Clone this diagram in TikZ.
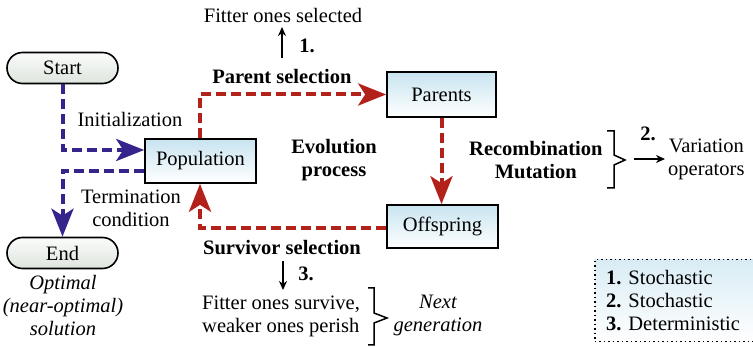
\documentclass[tikz,border=0pt]{standalone}
\usepackage{fontspec}
\setmainfont{Liberation Serif}
\usetikzlibrary{arrows.meta}
\definecolor{evblue}{RGB}{55,35,140}
\definecolor{evred}{RGB}{178,34,26}
\definecolor{boxtop}{RGB}{200,228,240}
\definecolor{pilltop}{RGB}{250,252,250}
\definecolor{pillbot}{RGB}{222,228,222}
\tikzset{
  every node/.style={font=\fontsize{20.5}{23}\selectfont, inner sep=0pt},
  stagebox/.style={draw=black, line width=1.6pt, top color=boxtop, bottom color=white, minimum width=111pt, minimum height=44pt},
  pill/.style={draw=black, line width=1.6pt, rounded corners=15.5pt, top color=pilltop, bottom color=pillbot, minimum width=111pt, minimum height=31pt},
  bluelink/.style={draw=evblue, line width=4pt, dash pattern=on 10pt off 5pt, -{Stealth[length=28pt,width=22pt,inset=7pt]}},
  redlink/.style={draw=evred, line width=4pt, dash pattern=on 10pt off 5pt, -{Stealth[length=28pt,width=22pt,inset=7pt]}},
  thinarrow/.style={draw=black, line width=1.5pt, -{Stealth[length=9pt,width=8pt]}},
  bracket/.style={draw=black, line width=1.5pt, line join=miter},
  lbl/.style={align=center},
  bflbl/.style={align=center, font=\fontsize{20.5}{23}\selectfont\bfseries},
  itlbl/.style={align=center, font=\fontsize{20.5}{23}\selectfont\itshape},
}
\begin{document}
\begin{tikzpicture}[x=1pt, y=-1pt]
\clip (0,0) rectangle (753,347);
\fill[white] (0,0) rectangle (753,347);

% legend
\node[draw=black, line width=1.5pt, dash pattern=on 1.5pt off 3pt, top color=boxtop!70, bottom color=white, minimum width=170pt, minimum height=82pt, anchor=north west] (legend) at (594,259) {};
\node[anchor=west, align=left] (legtext) at (606,301) {\textbf{1.} Stochastic\\\textbf{2.} Stochastic\\\textbf{3.} Deterministic};

% main nodes
\node[pill] (start) at (62.5,68) {Start};
\node[pill] (end) at (62.5,253) {End};
\node[stagebox] (pop) at (200.5,161) {Population};
\node[stagebox, minimum width=109pt, minimum height=45pt] (par) at (441.5,94.5) {Parents};
\node[stagebox, minimum height=43pt] (off) at (442.5,226.5) {Offspring};

% connectors
\draw[bluelink] (start.south) |- ([yshift=11pt]pop.west);
\draw[bluelink] ([yshift=-10pt]pop.west) -| (end.north);
\draw[redlink] ([xshift=-0.5pt]pop.north) |- (par.west);
\draw[redlink] (par.south) -- (par.south |- off.north);
\draw[redlink] ([yshift=-1.5pt]off.west) -| ([xshift=-0.5pt]pop.south);

% labels
\node[lbl] (init) at (130,119) {Initialization};
\node[lbl] (term) at (131,208) {Termination\\condition};
\node[itlbl] (opt) at (63,306) {Optimal\\(near-optimal)\\solution};
\node[bflbl] (evo) at (334,160) {Evolution\\process};

\node[bflbl] (psel) at (282,76) {Parent selection};
\node[lbl] (fsel) at (283,15) {Fitter ones selected};
\node[bflbl] (n1) at (307,46) {1.};
\coordinate (a1s) at (282,58);
\coordinate (a1e) at (282,27);
\draw[thinarrow] (a1s) -- (a1e);

\node[bflbl, anchor=west] (recomb) at (469,160) {Recombination\\Mutation};
\draw[bracket] (607,131) -- (614,131) -- (614,155) -- (625,160) -- (614,165) -- (614,188) -- (607,188);
\coordinate (a2s) at (634,159);
\coordinate (a2e) at (665,159);
\draw[thinarrow] (a2s) -- (a2e);
\node[bflbl] (n2) at (648,134) {2.};
\node[lbl, anchor=west] (vop) at (668,159) {Variation\\operators};

\node[bflbl] (ssel) at (282,248) {Survivor selection};
\coordinate (a3s) at (283,261);
\coordinate (a3e) at (283,290);
\draw[thinarrow] (a3s) -- (a3e);
\node[bflbl] (n3) at (306,274) {3.};
\node[align=left, anchor=west] (fsurv) at (202,316) {Fitter ones survive,\\weaker ones perish};
\draw[bracket] (368,288) -- (374,288) -- (374,313) -- (387,318) -- (374,323) -- (374,345) -- (368,345);
\node[itlbl] (nextgen) at (438,315) {Next\\generation};
\end{tikzpicture}
\end{document}
